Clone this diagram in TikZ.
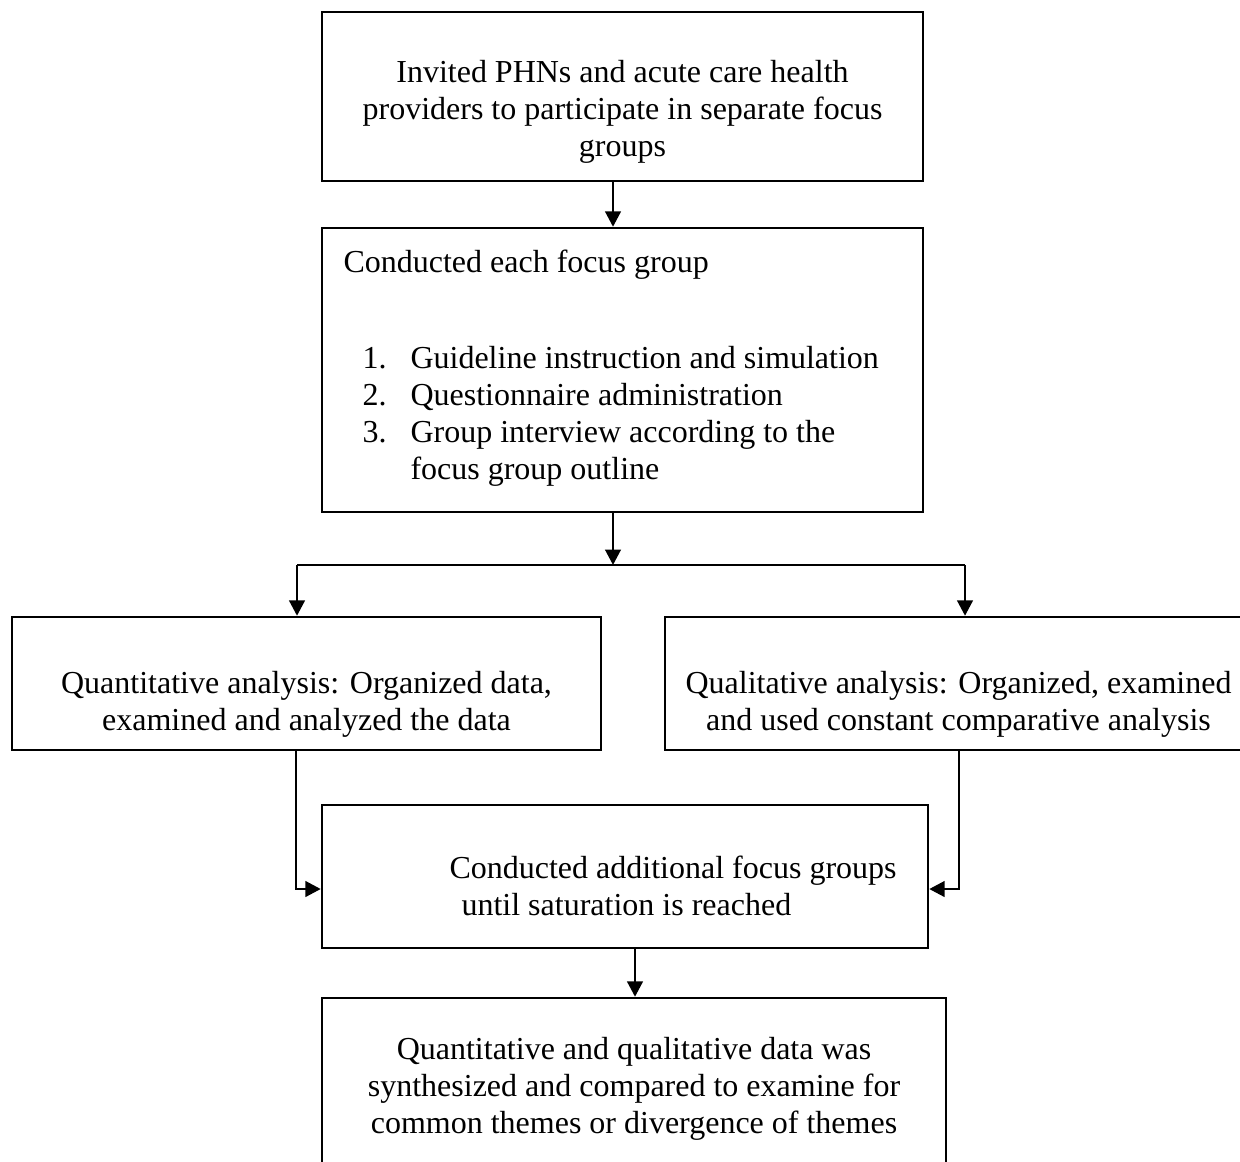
\documentclass[tikz,border=0pt]{standalone}
\usepackage{fontspec}
\setmainfont{Liberation Serif}
\usetikzlibrary{arrows.meta}
\begin{document}
\begin{tikzpicture}[x=0.375pt,y=-0.375pt,
  font=\fontsize{12}{13.85}\selectfont,
  box/.style={draw,line width=0.9pt,inner sep=0pt},
  txt/.style={inner sep=0pt,align=center},
  link/.style={line width=1.1pt},
  arr/.style={line width=1.1pt,-{Triangle[length=5.8pt,width=5.8pt]}}]
\useasboundingbox (0,0) rectangle (1240,1161);

% boxes
\node[box,minimum width={601*0.375pt},minimum height={169*0.375pt}] (b1) at (622.5,96.5) {};
\node[box,minimum width={601*0.375pt},minimum height={284*0.375pt}] (b2) at (622.5,370) {};
\node[box,minimum width={589*0.375pt},minimum height={133*0.375pt}] (b3) at (306.5,683.5) {};
\node[box,minimum width={587*0.375pt},minimum height={133*0.375pt}] (b4) at (958.5,683.5) {};
\node[box,minimum width={606*0.375pt},minimum height={143*0.375pt}] (b5) at (625,876.5) {};
\node[box,minimum width={624*0.375pt},minimum height={184*0.375pt}] (b6) at (634,1090) {};

% texts
\node[txt] (t1) at (622.5,112) {Invited PHNs and acute care health\\providers to participate in separate focus\\groups};
\node[txt,anchor=west,align=left] (t2a) at (343,265) {Conducted each focus group};
\node[txt,anchor=west,align=left] (t2b) at (362,416) {\makebox[18pt][l]{1.}Guideline instruction and simulation\\
  \makebox[18pt][l]{2.}Questionnaire administration\\
  \makebox[18pt][l]{3.}Group interview according to the\\
  \hspace*{18pt}focus group outline};
\node[txt] (t3) at (306.5,704) {Quantitative analysis: Organized data,\\examined and analyzed the data};
\node[txt] (t4) at (958.5,704) {Qualitative analysis: Organized, examined\\and used constant comparative analysis};
\node[txt,anchor=west,align=left] (t5) at (449,886) {Conducted additional focus groups\\\hspace*{4.5pt}until saturation is reached};
\node[txt] (t6) at (634,1089) {Quantitative and qualitative data was\\synthesized and compared to examine for\\common themes or divergence of themes};

% connector guides
\coordinate (ax) at (613,0);
\coordinate (j) at (613,565);
\coordinate (lx) at (297,0);
\coordinate (rx) at (965,0);
\coordinate (lc) at (296,0);
\coordinate (rc) at (959,0);
\coordinate (yc) at (0,889);
\coordinate (bx) at (635,0);

% connectors
\draw[arr] (b1.south -| ax) -- (b2.north -| ax);
\draw[arr] (b2.south -| ax) -- (j);
\draw[link] (j -| lx) -- (j -| rx);
\draw[arr] (j -| lx) -- (b3.north -| lx);
\draw[arr] (j -| rx) -- (b4.north -| rx);
\draw[arr] (b3.south -| lc) |- (b5.west |- yc);
\draw[arr] (b4.south -| rc) |- (b5.east |- yc);
\draw[arr] (b5.south -| bx) -- (b6.north -| bx);
\end{tikzpicture}
\end{document}
